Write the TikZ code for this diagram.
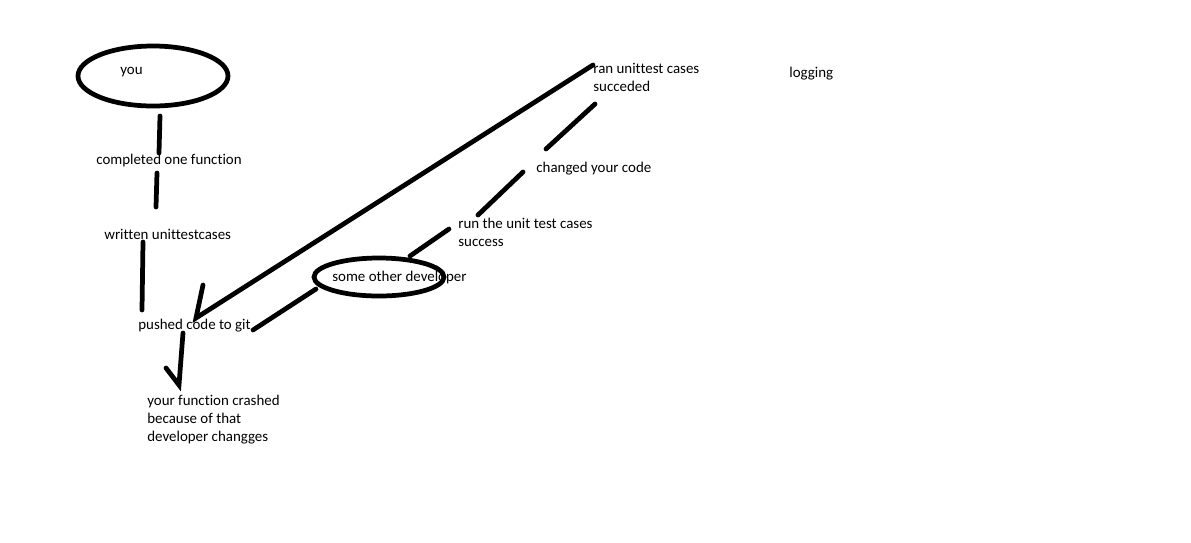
\documentclass[tikz,border=0pt]{standalone}
\usepackage{fontspec}
\setmainfont[Ligatures=NoCommon]{Carlito}
\begin{document}
\begin{tikzpicture}[x=0.02cm, y=-0.02cm,
	stroke/.style={line width=2.7pt, line cap=round},
	note/.style={anchor=west, inner sep=0pt, align=left, font=\fontsize{8.5}{10.2}\selectfont}]
	\useasboundingbox[fill=white] (0,0) rectangle (1191,542);
	% Ellipses:
	\draw[stroke] (153,76) ellipse [x radius=75, y radius=30];
	\draw[stroke] (379,277) ellipse [x radius=65, y radius=19];
	% Texts:
	\node[note] (you) at (120,72){you};
	\node[note] (done) at (96,161){completed one function};
	\node[note] (tests) at (104,234){written unittestcases};
	\node[note] (pushed) at (138,326){pushed code to git};
	\node[note] (crash) at (147,420){your function crashed\\because of that\\developer changges};
	\node[note] (other) at (332,278){some other developer};
	\node[note] (rerun) at (458,232){run the unit test cases\\success};
	\node[note] (changed) at (536,169){changed your code};
	\node[note] (ran) at (593,77){ran unittest cases\\succeded};
	\node[note] (logging) at (789,74){logging};
	% Wire ends:
	\coordinate (you-s) at (160,116);
	\coordinate (done-n) at (159,153);
	\coordinate (done-s) at (157,173);
	\coordinate (tests-n) at (156,207);
	\coordinate (tests-s) at (143,242);
	\coordinate (pushed-n) at (142,310);
	\coordinate (ran-w) at (593,65);
	\coordinate (pushed-ne) at (196,318);
	\coordinate (tick-a) at (203,285);
	\coordinate (other-w) at (316,289);
	\coordinate (pushed-e) at (253,330);
	\coordinate (pushed-s) at (183,333);
	\coordinate (crash-n) at (179,385);
	\coordinate (tick-b) at (166,368);
	\coordinate (other-ne) at (410,256);
	\coordinate (rerun-n) at (449,229);
	\coordinate (rerun-ne) at (478,215);
	\coordinate (changed-w) at (523,172);
	\coordinate (changed-n) at (546,149);
	\coordinate (ran-s) at (595,104);
	% Paths:
	\draw[stroke] (you-s) -- (done-n);
	\draw[stroke] (done-s) -- (tests-n);
	\draw[stroke] (tests-s) -- (pushed-n);
	\draw[stroke] (ran-w) -- (pushed-ne) -- (tick-a);
	\draw[stroke] (other-w) -- (pushed-e);
	\draw[stroke] (pushed-s) -- (crash-n) -- (tick-b);
	\draw[stroke] (other-ne) -- (rerun-n);
	\draw[stroke] (rerun-ne) -- (changed-w);
	\draw[stroke] (changed-n) -- (ran-s);
\end{tikzpicture}
\end{document}
